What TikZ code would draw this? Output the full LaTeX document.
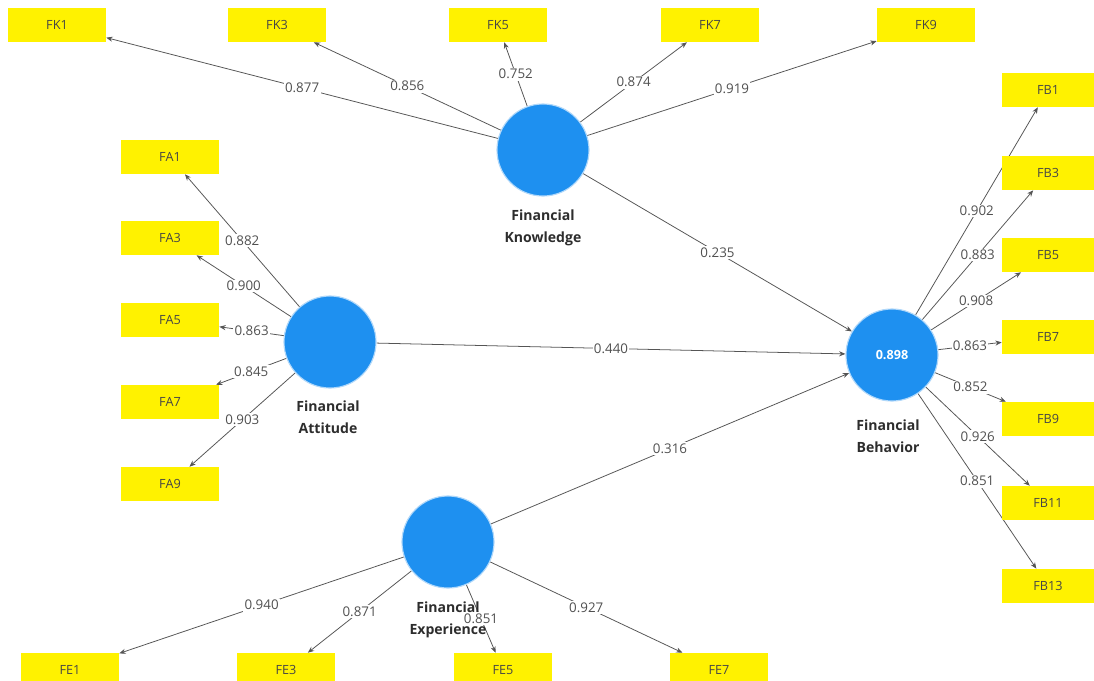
\documentclass[tikz,border=0pt]{standalone}
\usepackage{fontspec}
\setmainfont{Open Sans}
\usetikzlibrary{arrows.meta}
\pgfdeclarelayer{back}
\pgfdeclarelayer{bg}
\pgfsetlayers{back,bg,main}
\definecolor{lvblue}{RGB}{30,144,240}
\definecolor{mvyellow}{RGB}{255,242,0}
\definecolor{edgegray}{RGB}{85,85,85}
\definecolor{numgray}{RGB}{80,80,80}
\definecolor{txtgray}{RGB}{70,70,70}
\definecolor{namegray}{RGB}{45,45,45}
\begin{document}
\begin{tikzpicture}[x=0.025cm,y=-0.025cm,
  lv/.style={circle, fill=lvblue, draw=lvblue!35, line width=0.8pt, minimum size=2.3cm, inner sep=0pt, text=white, font=\bfseries\fontsize{9}{11}\selectfont},
  mv/.style={rectangle, fill=mvyellow, minimum width=2.45cm, minimum height=0.85cm, inner sep=0pt, text=txtgray, font=\fontsize{9}{10}\selectfont},
  mvb/.style={mv, minimum width=2.3cm},
  lvname/.style={align=center, text=namegray, font=\bfseries\fontsize{10}{15.5}\selectfont},
  link/.style={draw=edgegray, line width=0.55pt, -{Stealth[length=4.5pt,width=3.6pt]}},
  load/.style={fill=white, inner sep=1pt, text=numgray, font=\fontsize{9.5}{10}\selectfont},
]
\useasboundingbox (0,0) rectangle (1094,680);
\clip (0,0) rectangle (1094,680);
\begin{pgfonlayer}{back}
\fill[white] (0,0) rectangle (1094,680);
\end{pgfonlayer}

% latent variables
\node[lv] (FK) at (543,150) {};
\node[lv] (FA) at (330,342) {};
\node[lv] (FB) at (892,355) {0.898};
\node[lv] (FE) at (448,542) {};

% indicators
\node[mv] (FK1) at (57,25) {FK1};
\node[mv] (FK3) at (277,25) {FK3};
\node[mv] (FK5) at (498,25) {FK5};
\node[mv] (FK7) at (710,25) {FK7};
\node[mv] (FK9) at (926,25) {FK9};

\node[mv] (FA1) at (170,157) {FA1};
\node[mv] (FA3) at (170,238) {FA3};
\node[mv] (FA5) at (170,320) {FA5};
\node[mv] (FA7) at (170,402) {FA7};
\node[mv] (FA9) at (170,484) {FA9};

\node[mvb] (FB1) at (1048,90) {FB1};
\node[mvb] (FB3) at (1048,173) {FB3};
\node[mvb] (FB5) at (1048,255) {FB5};
\node[mvb] (FB7) at (1048,337) {FB7};
\node[mvb] (FB9) at (1048,419) {FB9};
\node[mvb] (FB11) at (1048,503) {FB11};
\node[mvb] (FB13) at (1048,586) {FB13};

\node[mv] (FE1) at (70,670) {FE1};
\node[mv] (FE3) at (286,670) {FE3};
\node[mv] (FE5) at (503,670) {FE5};
\node[mv] (FE7) at (719,670) {FE7};

\begin{pgfonlayer}{bg}
\draw[link] (FK) -- node[load] (lk1) {0.877} (FK1);
\draw[link] (FK) -- node[load] (lk3) {0.856} (FK3);
\draw[link] (FK) -- node[load] (lk5) {0.752} (FK5);
\draw[link] (FK) -- node[load] (lk7) {0.874} (FK7);
\draw[link] (FK) -- node[load] (lk9) {0.919} (FK9);

\draw[link] (FA) -- node[load] (la1) {0.882} (FA1);
\draw[link] (FA) -- node[load] (la3) {0.900} (FA3);
\draw[link] (FA) -- node[load] (la5) {0.863} (FA5);
\draw[link] (FA) -- node[load] (la7) {0.845} (FA7);
\draw[link] (FA) -- node[load] (la9) {0.903} (FA9);

\draw[link] (FB) -- node[load] (lb1) {0.902} (FB1);
\draw[link] (FB) -- node[load] (lb3) {0.883} (FB3);
\draw[link] (FB) -- node[load] (lb5) {0.908} (FB5);
\draw[link] (FB) -- node[load] (lb7) {0.863} (FB7);
\draw[link] (FB) -- node[load] (lb9) {0.852} (FB9);
\draw[link] (FB) -- node[load] (lb11) {0.926} (FB11);
\draw[link] (FB) -- node[load] (lb13) {0.851} (FB13);

\draw[link] (FE) -- node[load] (le1) {0.940} (FE1);
\draw[link] (FE) -- node[load] (le3) {0.871} (FE3);
\draw[link] (FE) -- node[load] (le5) {0.851} (FE5);
\draw[link] (FE) -- node[load] (le7) {0.927} (FE7);

\draw[link] (FK) -- node[load] (pk) {0.235} (FB);
\draw[link] (FA) -- node[load] (pa) {0.440} (FB);
\draw[link] (FE) -- node[load] (pe) {0.316} (FB);
\end{pgfonlayer}

% latent variable names
\node[lvname] (nFK) at (543,228) {Financial\\Knowledge};
\node[lvname] (nFA) at (328,417) {Financial\\Attitude};
\node[lvname] (nFB) at (888,436) {Financial\\Behavior};
\node[lvname] (nFE) at (448,620) {Financial\\Experience};
\end{tikzpicture}
\end{document}
